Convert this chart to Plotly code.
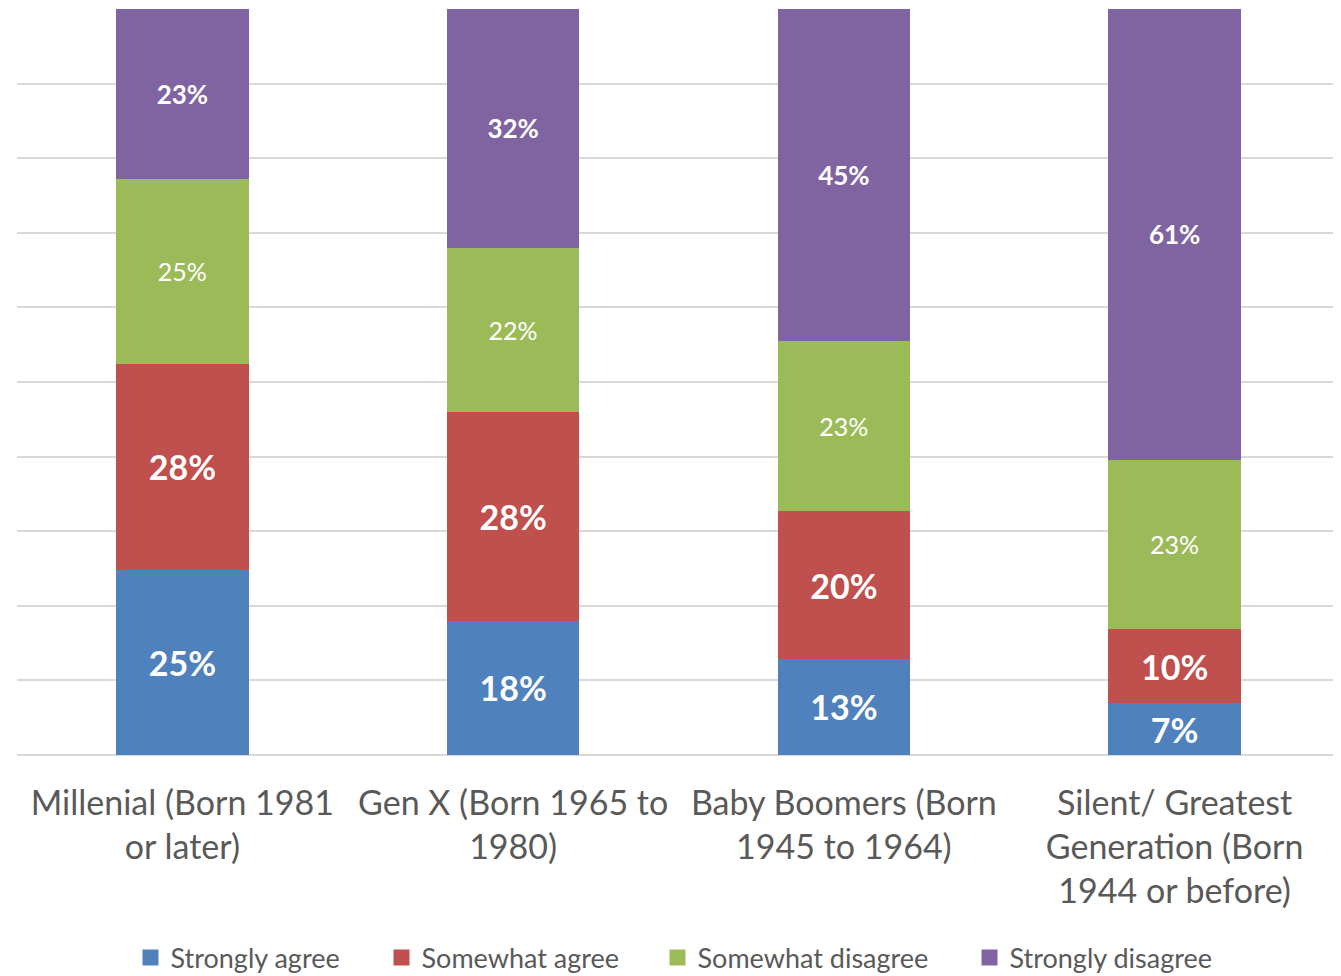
import plotly.graph_objects as go

categories = [
    "Millenial (Born 1981<br>or later)",
    "Gen X (Born 1965 to<br>1980)",
    "Baby Boomers (Born<br>1945 to 1964)",
    "Silent/ Greatest<br>Generation (Born<br>1944 or before)",
]
series_names = ["Strongly agree", "Somewhat agree", "Somewhat disagree", "Strongly disagree"]
strongly_agree = [25, 18, 13, 7]
somewhat_agree = [28, 28, 20, 10]
somewhat_disagree = [25, 22, 23, 23]
strongly_disagree = [23, 32, 45, 61]

colors = ["#4F81BD", "#C0504D", "#9BBB59", "#8064A2"]
label_fonts = [
    dict(family="Lato", size=34, color="white", weight="bold"),
    dict(family="Lato", size=34, color="white", weight="bold"),
    dict(family="Lato", size=25, color="white"),
    dict(family="Lato", size=26, color="white", weight="bold"),
]
legend_widths = [206, 231, 267, 212]

fig = go.Figure()
for name, vals, col, tf in zip(series_names,
                               [strongly_agree, somewhat_agree, somewhat_disagree, strongly_disagree],
                               colors, label_fonts):
    fig.add_trace(go.Bar(
        name=name, x=categories, y=vals,
        marker=dict(color=col, line=dict(width=0)),
        text=[f"{v}%" for v in vals],
        textposition="inside", insidetextanchor="middle",
        textangle=0, constraintext="none",
        textfont=tf, showlegend=False, legendgroup=name,
    ))
# legend-only entries with larger square swatches
for name, col, lw in zip(series_names, colors, legend_widths):
    fig.add_trace(go.Scatter(
        name=name, x=[None], y=[None], mode="markers",
        marker=dict(symbol="square", size=16, color=col),
        legendgroup=name, legendwidth=lw, hoverinfo="skip",
    ))

# page body has an 8px default margin, so the figure is sized to fit the window
fig.update_layout(
    barmode="stack", barnorm="percent", bargap=0.6,
    width=1333, height=968,
    margin=dict(l=9, r=1, t=1, b=221, autoexpand=False),
    paper_bgcolor="white", plot_bgcolor="white",
    font=dict(family="Lato", color="#595959"),
    showlegend=True,
    legend=dict(orientation="h", x=0.5, xanchor="center", y=-0.272, yanchor="middle",
                font=dict(size=27, color="#595959"), traceorder="normal",
                itemclick=False, itemdoubleclick=False),
    uniformtext=dict(mode=False),
)
fig.update_yaxes(range=[0, 100], dtick=10, showticklabels=False,
                 showgrid=True, gridcolor="#d9d9d9", gridwidth=1.5,
                 zeroline=True, zerolinecolor="#d9d9d9", zerolinewidth=1.5,
                 automargin=False)
fig.update_xaxes(showgrid=False, tickfont=dict(size=34, color="#595959"),
                 ticklabelstandoff=25, showline=False, automargin=False)

fig.write_html("out.html")
